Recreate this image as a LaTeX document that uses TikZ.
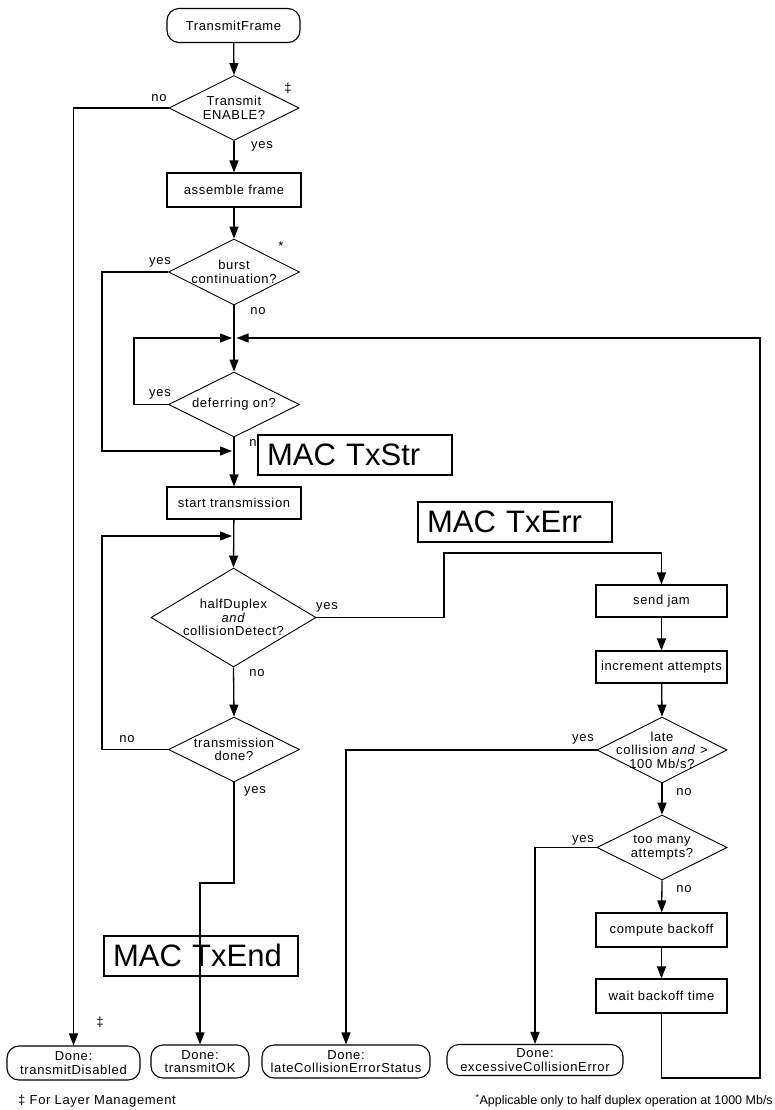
\documentclass[tikz,border=0pt]{standalone}
\usepackage{fontspec}
\setmainfont{Liberation Sans}
\newfontfamily\lbl{Liberation Sans}[LetterSpace=5]
\usetikzlibrary{shapes.geometric,arrows.meta}
\tikzset{
  base/.style={draw, line width=1.1pt, inner sep=0pt, align=center, font=\lbl\fontsize{13}{13.5}\selectfont},
  proc/.style={base, rectangle, minimum width=134pt, minimum height=33pt},
  term/.style={base, rectangle, rounded corners=12pt, minimum height=34pt},
  dec/.style={draw, diamond, line width=0.9pt, inner sep=0pt, minimum width=131pt, minimum height=65pt},
  dtext/.style={inner sep=0pt, align=center, font=\lbl\fontsize{13}{13.5}\selectfont},
  lab/.style={inner sep=0pt, font=\lbl\fontsize{13}{13.5}\selectfont},
  foot/.style={inner sep=0pt, font=\fontsize{12.5}{13}\selectfont},
  big/.style={draw, line width=2pt, fill=white, inner xsep=9pt, inner ysep=0pt, minimum height=40pt, text width=176pt, align=left, font=\fontsize{31}{33}\selectfont},
  conn/.style={line width=1.3pt},
  arr/.style={conn, -{Triangle[length=12pt,width=9pt]}}
}
\begin{document}
\begin{tikzpicture}[x=1pt,y=-1pt]
\useasboundingbox[fill=white] (0,0) rectangle (774,1110);
% nodes
\node[term, minimum width=133pt] (tf) at (233.5,25.5) {TransmitFrame};
\node[dec, minimum width=130pt] (en) at (234,108) {};
\node[dtext] (ent) at (en) {Transmit\\ENABLE?};
\node[proc, minimum height=34pt] (af) at (234,190) {assemble frame};
\node[dec, minimum height=66pt] (bc) at (234,272) {};
\node[dtext] (bct) at (bc) {burst\\continuation?};
\node[dec] (df) at (234,404.5) {};
\node[dtext] (dft) at (df) {deferring on?};
\node[proc, minimum height=32pt] (st) at (234,503) {start transmission};
\node[dec, minimum width=165pt, minimum height=99pt] (hd) at (233.5,617.5) {};
\node[dtext] (hdt) at (hd) {halfDuplex\\\textit{and}\\collisionDetect?};
\node[dec] (td) at (234,749.5) {};
\node[dtext] (tdt) at (td) {transmission\\done?};
\node[proc, minimum width=131pt, minimum height=32pt] (sj) at (661.5,601) {send jam};
\node[proc, minimum width=131pt, minimum height=32pt] (ia) at (661.5,667) {increment attempts};
\node[dec, minimum width=130pt, minimum height=66pt] (lc) at (662,750) {};
\node[dtext] (lct) at (lc) {late\\collision \textit{and} >\\100 Mb/s?};
\node[dec, minimum width=130pt] (tm) at (662,847.5) {};
\node[dtext] (tmt) at (tm) {too many\\attempts?};
\node[proc, minimum width=131pt, minimum height=34pt] (cb) at (661.5,930) {compute backoff};
\node[proc, minimum width=131pt, minimum height=34pt] (wb) at (661.5,996) {wait backoff time};
\node[term, minimum width=133pt] (d1) at (73.5,1063) {Done:\\transmitDisabled};
\node[term, minimum width=98pt, minimum height=33pt] (d2) at (200,1061.5) {Done:\\transmitOK};
\node[term, minimum width=168pt, minimum height=33pt] (d3) at (346,1061.5) {Done:\\lateCollisionErrorStatus};
\node[term, minimum width=176pt, minimum height=31pt] (d4) at (535,1060) {Done:\\excessiveCollisionError};
% junction coordinates
\coordinate (j1l) at (232,338);
\coordinate (j1r) at (236.5,338);
\coordinate (j2) at (232,451);
\coordinate (j3) at (232,536);
\coordinate (hy) at (444,553);
\coordinate (rb) at (760,1078);
\coordinate (tyb) at (200,883);
% connectors
\draw[arr] (tf) -- (en.north);
\draw[arr] (en.west) -| (d1.north);
\draw[arr] (en.south) -- (af);
\draw[arr] (af) -- (bc.north);
\draw[arr] (bc.west) -- ++(-66,0) |- (j2);
\draw[arr] (bc.south) -- (df.north);
\draw[arr] (df.west) -- ++(-34,0) |- (j1l);
\draw[arr] (df.south) -- (st);
\draw[arr] (st) -- (hd.north);
\draw[arr] (td.west) -- ++(-66,0) |- (j3);
\draw[arr] (hd.south) -- (td.north);
\draw[arr] (hd.east) -| (hy) -| (sj.north);
\draw[arr] (sj) -- (ia);
\draw[arr] (ia) -- (lc.north);
\draw[arr] (lc.west) -| (d3.north);
\draw[arr] (lc.south) -- (tm.north);
\draw[arr] (tm.west) -| (d4.north);
\draw[arr] (tm.south) -- (cb);
\draw[arr] (cb) -- (wb);
\draw[arr] (wb.south) |- (rb) |- (j1r);
\draw[arr] (td.south) |- (tyb) -- (d2.north);
% labels
\node[lab] (l1) at (159,98) {no};
\node[lab] (l2) at (262,146) {yes};
\node[lab] (l3) at (281,246) {*};
\node[lab] (l4) at (160,262) {yes};
\node[lab] (l5) at (258,311) {no};
\node[lab] (l6) at (160,394) {yes};
\node[lab] (l7) at (257,443) {no};
\node[lab] (l8) at (327,607) {yes};
\node[lab] (l9) at (257,673) {no};
\node[lab] (l10) at (127,739) {no};
\node[lab] (l11) at (255,791) {yes};
\node[lab] (l12) at (583,739) {yes};
\node[lab] (l13) at (684,792) {no};
\node[lab] (l14) at (583,840) {yes};
\node[lab] (l15) at (684,889) {no};
\node[lab] (dg1) at (288,88) {‡};
\node[lab] (dg2) at (100,1022) {‡};
\node[lab, anchor=west] (fn1) at (18,1101) {‡ For Layer Management};
\node[foot, anchor=east] (fn2) at (773,1101) {\textsuperscript{*}Applicable only to half duplex operation at 1000 Mb/s};
% big labels
\node[big, anchor=west] (txs) at (257,455) {MAC TxStr};
\node[big, anchor=west] (txr) at (417,522) {MAC TxErr};
\node[big, anchor=west, fill=none] (txe) at (103,955.5) {MAC TxEnd};
\end{tikzpicture}
\end{document}
